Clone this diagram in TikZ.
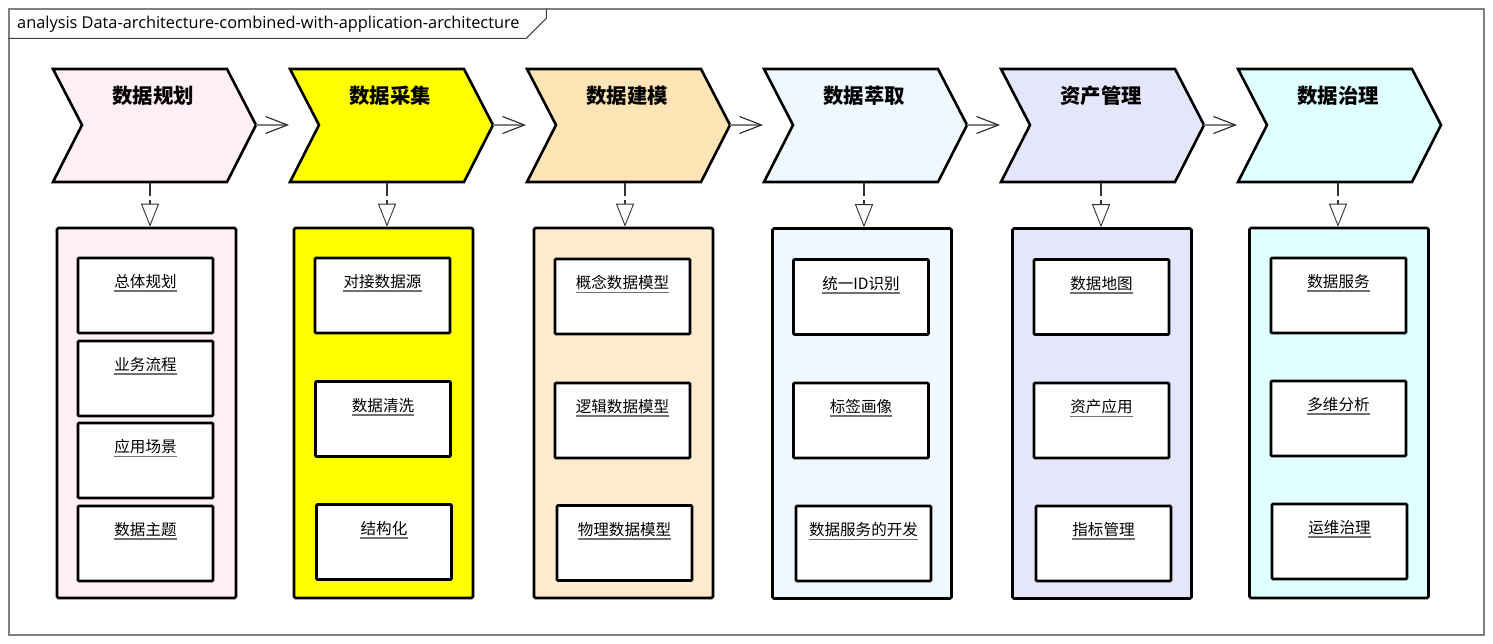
\documentclass[tikz,border=0pt]{standalone}
\usepackage{fontspec}
\setmainfont{Open Sans}
\newfontfamily\cjk{Noto Sans CJK SC}
\usetikzlibrary{arrows.meta}
\definecolor{cA}{HTML}{FFF0F5}
\definecolor{cB}{HTML}{FFFF00}
\definecolor{cC}{HTML}{FFE4B5}
\definecolor{cCb}{HTML}{FFEBCD}
\definecolor{cD}{HTML}{F0F8FF}
\definecolor{cE}{HTML}{E6E6FA}
\definecolor{cF}{HTML}{E0FFFF}
\definecolor{frameg}{HTML}{808080}
\definecolor{ulg}{HTML}{707070}
\tikzset{
  chevline/.style={draw=black, line width=2.6bp, line join=miter},
  outerbox/.style={draw=black, line width=2.6bp, rounded corners=1.5bp, minimum width=179bp, minimum height=370bp, inner sep=0pt},
  ibox/.style={draw=black, fill=white, line width=2.6bp, rounded corners=1bp, minimum width=135bp, minimum height=75bp, inner sep=0pt},
  ilab/.style={font=\cjk\fontsize{15.6}{18}\selectfont, inner xsep=0pt, inner ysep=1.2bp},
  ctitle/.style={font=\cjk\bfseries\fontsize{20.5}{24}\selectfont, inner sep=0pt},
  uline/.style={draw=ulg, line width=1.6bp},
  flow/.style={draw=frameg, line width=2bp, -{Straight Barb[length=22bp,width=17bp,line width=1.1bp,color=black!85]}},
  dep/.style={draw=black!80, line width=1.3bp, dash pattern=on 13bp off 4bp, -{Triangle[length=23bp,width=18bp,fill=white,line width=0.9bp]}},
}
\newcommand\mychev[5]{% index, x0, color, arrow x, title
  \draw[chevline, fill=#3] (#2,69) -- ++(174,0) -- ++(29,56) -- ++(-29,57) -- ++(-174,0) -- ++(29,-57) -- cycle;
  \coordinate (ch#1tip) at (#2+203,125);
  \coordinate (ch#1in) at (#2,125);
  \coordinate (ch#1bot) at (#4,183);
  \node[ctitle] (ch#1title) at (#2+100,96) {#5};
}
\newcommand\myibox[4]{% name, x center, y top, text
  \node[ibox] (#1) at (#2,#3+37.5) {};
  \node[ilab] (#1t) at ([yshift=-25bp]#1.north) {#4};
  \draw[uline] ([yshift=-1bp]#1t.south west) -- ([yshift=-1bp]#1t.south east);
}
\begin{document}
\begin{tikzpicture}[x=1bp,y=-1bp]
\useasboundingbox (0,0) rectangle (1493,644);
% frame
\node[draw=frameg, line width=1.4bp, minimum width=1475bp, minimum height=626bp, inner sep=0pt] (frame) at (746.5,322) {};
\draw[draw=black!75, line width=1bp] (frame.north west) ++(0,30) coordinate (tabbl) -- ++(518,0) coordinate (tabbr) -- ++(20,-20) -- ++(0,-10) coordinate (tabtr);
\node[anchor=west, font=\fontsize{16.4}{19}\selectfont, inner sep=0pt] (hdr) at (17,24) {analysis Data-architecture-combined-with-application-architecture};
% chevrons
\mychev{1}{53}{cA}{150}{数据规划}
\mychev{2}{290}{cB}{387}{数据采集}
\mychev{3}{527}{cC}{625}{数据建模}
\mychev{4}{764}{cD}{864}{数据萃取}
\mychev{5}{1001}{cE}{1101}{资产管理}
\mychev{6}{1238}{cF}{1338}{数据治理}
\foreach \a/\b in {1/2,2/3,3/4,4/5,5/6}{
  \draw[flow] (ch\a tip) -- ([xshift=-1bp]ch\b in);
}
% outer boxes
\node[outerbox, fill=cA] (b1) at (146.5,413) {};
\node[outerbox, fill=cB] (b2) at (383.5,413) {};
\node[outerbox, fill=cCb] (b3) at (623.5,413) {};
\node[outerbox, fill=cD] (b4) at (862,413.5) {};
\node[outerbox, fill=cE] (b5) at (1102,413.5) {};
\node[outerbox, fill=cF] (b6) at (1339,413) {};
\foreach \i in {1,...,6}{
  \draw[dep] (ch\i bot) -- (ch\i bot |- b\i.north);
}
% inner boxes
\myibox{i11}{145.5}{258}{总体规划}
\myibox{i12}{145.5}{341}{业务流程}
\myibox{i13}{145.5}{423}{应用场景}
\myibox{i14}{145.5}{506}{数据主题}
\myibox{i21}{382.5}{258}{对接数据源}
\myibox{i22}{383}{381.5}{数据清洗}
\myibox{i23}{384}{504.5}{结构化}
\myibox{i31}{622.5}{259}{概念数据模型}
\myibox{i32}{622.5}{383}{逻辑数据模型}
\myibox{i33}{624.5}{505.5}{物理数据模型}
\myibox{i41}{861}{259.5}{统一ID识别}
\myibox{i42}{861}{383}{标签画像}
\myibox{i43}{863.5}{506}{数据服务的开发}
\myibox{i51}{1101.5}{259.5}{数据地图}
\myibox{i52}{1101.5}{383}{资产应用}
\myibox{i53}{1103.5}{506}{指标管理}
\myibox{i61}{1338.5}{258}{数据服务}
\myibox{i62}{1338.5}{381}{多维分析}
\myibox{i63}{1339.5}{504}{运维治理}
\end{tikzpicture}
\end{document}
